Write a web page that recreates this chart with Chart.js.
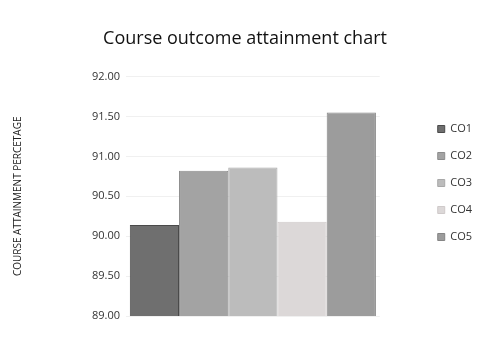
<!DOCTYPE html>
<html>
<head>
<meta charset="utf-8">
<script src="https://cdn.jsdelivr.net/npm/chart.js@4"></script>
<style>
  body { margin: 0; background: #fff; }
  #wrap { width: 493px; height: 338px; }
</style>
</head>
<body>
<div id="wrap"><canvas id="coChart"></canvas></div>
<script>
const categories = [""];
const outcomes = ["CO1", "CO2", "CO3", "CO4", "CO5"];
const attainment = [90.14, 90.82, 90.86, 90.18, 91.55];
const yTicks = [89.0, 89.5, 90.0, 90.5, 91.0, 91.5, 92.0];
const shades = ["#6f6f6f", "#a3a3a3", "#bcbcbc", "#dcd8d8", "#9c9c9c"];
const edges = ["#4a4a4a", "#8c8c8c", "#a8a8a8", "#cfcaca", "#858585"];

const ctx = document.getElementById("coChart").getContext("2d");

new Chart(ctx, {
    type: "bar",
    data: {
        labels: categories,
        datasets: outcomes.map((name, i) => ({
            label: name,
            data: [attainment[i]],
            backgroundColor: shades[i],
            borderColor: edges[i],
            borderWidth: 1,
            barPercentage: 1,
            categoryPercentage: 0.97
        }))
    },
    options: {
        responsive: true,
        maintainAspectRatio: false,
        animation: false,
        layout: { padding: { left: 8, right: 11, top: 24, bottom: 14 } },
        plugins: {
            title: {
                display: true,
                text: "Course outcome attainment chart",
                color: "#111",
                font: { family: "Open Sans", size: 18, weight: "normal" },
                padding: { top: 4, bottom: 27 }
            },
            legend: {
                position: "right",
                title: {
                    display: true,
                    text: " ",
                    font: { size: 10 },
                    padding: { top: 0, bottom: 6 }
                },
                labels: {
                    boxWidth: 7,
                    boxHeight: 7,
                    padding: 16,
                    color: "#333",
                    font: { family: "Open Sans", size: 11 }
                }
            },
            tooltip: { enabled: false }
        },
        scales: {
            x: {
                grid: { display: false },
                border: { display: false },
                ticks: { display: false }
            },
            y: {
                min: 89,
                max: 92,
                afterBuildTicks: axis => {
                    axis.ticks = yTicks.map(v => ({ value: v }));
                },
                afterFit: axis => { axis.width = 118; },
                grid: { color: "#f0f0f0", drawTicks: false },
                border: { display: false },
                ticks: {
                    padding: 6,
                    color: "#333",
                    font: { family: "Open Sans", size: 11 },
                    callback: v => Number(v).toFixed(2)
                },
                title: {
                    display: true,
                    text: "COURSE ATTAINMENT PERCETAGE",
                    color: "#222",
                    font: { family: "Open Sans", size: 10 },
                    padding: { top: 4, bottom: 4 }
                }
            },
            // empty right-hand axis, only keeps a gap before the legend
            gap: {
                type: "linear",
                position: "right",
                display: true,
                grid: { display: false },
                border: { display: false },
                ticks: { display: false },
                afterFit: axis => { axis.width = 42; }
            }
        }
    }
});
</script>
</body>
</html>
